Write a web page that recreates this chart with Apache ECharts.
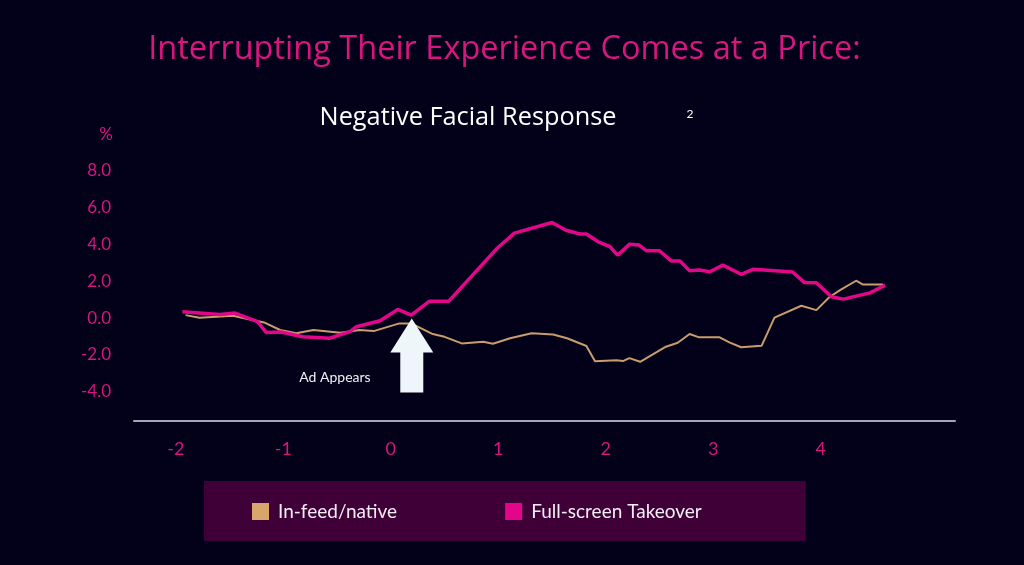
<!DOCTYPE html>
<html>
<head>
<meta charset="utf-8">
<script src="https://cdn.jsdelivr.net/npm/echarts@6/dist/echarts.min.js"></script>
<style>
html,body{margin:0;padding:0;background:#03001a;}
#chart{width:1024px;height:565px;}
</style>
</head>
<body>
<div id="chart"></div>
<script>
// ---- data ----
var titleText = 'Interrupting Their Experience Comes at a Price:';
var subtitleText = 'Negative Facial Response';
var yUnitText = '%';
var seriesNames = ['In-feed/native', 'Full-screen Takeover'];
var xTickValues = [-2, -1, 0, 1, 2, 3, 4];
var yTickValues = [-4, -2, 0, 2, 4, 6, 8];
var annotationText = 'Ad Appears';
var adAppearsAt = [0.195, -2.04];
var annotationLabelAt = [-0.52, -3.22];

// In-feed/native: [seconds, % change]
var inFeedPoints = [
  [-1.91, 0.16], [-1.78, 0.02], [-1.47, 0.13], [-1.17, -0.26], [-1.03, -0.65],
  [-0.88, -0.83], [-0.72, -0.65], [-0.47, -0.80], [-0.29, -0.65], [-0.16, -0.71],
  [0.08, -0.29], [0.19, -0.29], [0.25, -0.47], [0.39, -0.87], [0.50, -1.02],
  [0.66, -1.38], [0.86, -1.29], [0.95, -1.40], [1.11, -1.10], [1.31, -0.83],
  [1.51, -0.89], [1.64, -1.10], [1.82, -1.52], [1.90, -2.35], [2.10, -2.30],
  [2.16, -2.34], [2.22, -2.18], [2.32, -2.38], [2.56, -1.56], [2.67, -1.34],
  [2.78, -0.87], [2.87, -1.05], [3.06, -1.05], [3.15, -1.32], [3.26, -1.59],
  [3.45, -1.51], [3.57, 0.02], [3.82, 0.67], [3.96, 0.43], [4.08, 1.13],
  [4.18, 1.52], [4.33, 2.03], [4.39, 1.83], [4.58, 1.83]
];
// Full-screen Takeover: [seconds, % change]
var fullScreenPoints = [
  [-1.94, 0.34], [-1.59, 0.20], [-1.45, 0.27], [-1.24, -0.20], [-1.16, -0.78],
  [-1.02, -0.76], [-0.82, -1.02], [-0.57, -1.10], [-0.38, -0.74], [-0.32, -0.47],
  [-0.10, -0.15], [0.065, 0.47], [0.19, 0.16], [0.36, 0.92], [0.54, 0.92],
  [0.99, 3.80], [1.15, 4.62], [1.50, 5.20], [1.63, 4.78], [1.76, 4.57],
  [1.82, 4.57], [1.93, 4.15], [2.04, 3.88], [2.11, 3.42], [2.22, 4.01],
  [2.31, 3.97], [2.38, 3.66], [2.50, 3.66], [2.61, 3.11], [2.69, 3.11],
  [2.78, 2.57], [2.87, 2.61], [2.97, 2.52], [3.09, 2.88], [3.26, 2.38],
  [3.37, 2.65], [3.74, 2.50], [3.85, 1.93], [3.96, 1.92], [4.10, 1.16],
  [4.21, 1.03], [4.46, 1.37], [4.60, 1.79]
];

// ---- styles ----
var PINK = '#e4068a';
var PINK_TEXT = '#d9157f';
var TAN = '#c89d6c';
var TAN_ICON = '#d9a56b';
var FONT = 'Lato, "Noto Sans", sans-serif';
var TITLE_FONT = '"Open Sans", Lato, sans-serif';

var chart = echarts.init(document.getElementById('chart'), null, {renderer: 'canvas'});
chart.setOption({
  backgroundColor: '#03001a',
  animation: false,
  textStyle: {fontFamily: FONT},
  grid: {left: 134, right: 69, top: 171, bottom: 144, containLabel: false},
  xAxis: {
    type: 'value',
    min: -2.39, max: 5.25,
    axisLine: {show: true, onZero: false, lineStyle: {color: '#a3a3c0', width: 2}},
    axisTick: {show: false},
    splitLine: {show: false},
    axisLabel: {
      customValues: xTickValues,
      color: PINK_TEXT, fontSize: 18, margin: 19, fontFamily: FONT
    }
  },
  yAxis: {
    type: 'value',
    min: -5.6, max: 8,
    axisLine: {show: false, onZero: false},
    axisTick: {show: false},
    splitLine: {show: false},
    axisLabel: {
      customValues: yTickValues,
      color: PINK_TEXT, fontSize: 17, margin: 23, fontFamily: FONT,
      formatter: function (v) { return v.toFixed(1); }
    }
  },
  legend: {
    left: 204, top: 481,
    padding: [21, 104, 20, 48],
    backgroundColor: '#3f0037',
    itemWidth: 17, itemHeight: 17, itemGap: 108,
    icon: 'rect',
    textStyle: {color: '#f2eef4', fontSize: 19, fontFamily: FONT, padding: [0, 0, 0, 4]},
    data: [
      {name: seriesNames[0], itemStyle: {color: TAN_ICON}},
      {name: seriesNames[1], itemStyle: {color: PINK}}
    ]
  },
  graphic: [
    {type: 'text', x: 504.5, y: 50, style: {text: titleText, fill: PINK_TEXT, font: '32.5px ' + TITLE_FONT, textAlign: 'center', textVerticalAlign: 'middle'}},
    {type: 'text', x: 468, y: 118, style: {text: subtitleText, fill: '#ffffff', font: '25.3px ' + TITLE_FONT, textAlign: 'center', textVerticalAlign: 'middle'}},
    {type: 'text', x: 690, y: 114, style: {text: '2', fill: '#ffffff', font: '12px ' + FONT, textAlign: 'center', textVerticalAlign: 'middle'}},
    {type: 'text', x: 106, y: 135, style: {text: yUnitText, fill: PINK_TEXT, font: '17px ' + FONT, textAlign: 'center', textVerticalAlign: 'middle'}}
  ],
  series: [
    {
      name: seriesNames[0], type: 'line', data: inFeedPoints,
      showSymbol: false, symbol: 'none',
      lineStyle: {color: TAN, width: 2},
      itemStyle: {color: TAN_ICON},
      z: 2,
      markPoint: {
        silent: true,
        data: [
          {coord: adAppearsAt, symbol: 'path://M21.5,0 L43,34 L33,34 L33,74 L10,74 L10,34 L0,34 Z', symbolSize: [43, 74],
           itemStyle: {color: '#eef6f9'}, label: {show: false}},
          {coord: annotationLabelAt, symbol: 'circle', symbolSize: 0,
           label: {show: true, formatter: annotationText, color: '#eef2f4', fontSize: 14, fontFamily: FONT, position: 'inside'}}
        ]
      }
    },
    {
      name: seriesNames[1], type: 'line', data: fullScreenPoints,
      showSymbol: false, symbol: 'none',
      lineStyle: {color: PINK, width: 3.5},
      itemStyle: {color: PINK},
      z: 3
    }
  ]
});
</script>
</body>
</html>
